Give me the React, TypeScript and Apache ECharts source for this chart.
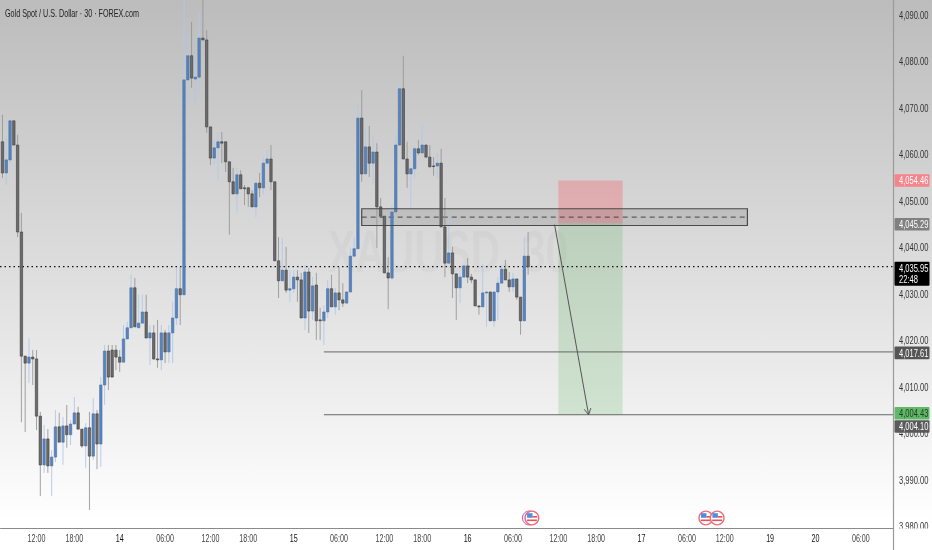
import React, { useEffect, useRef } from "react";
import * as echarts from "echarts";

const opens = [4062.8,4056.1,4058.9,4067.3,4062.1,4043.4,4016.7,4015.2,4016.5,4016.1,4003.8,3993.3,3998.9,3993.1,3995.0,4001.5,3998.2,4001.7,3999.8,4002.1,
4004.5,4001.0,3997.4,4001.3,3995.2,4004.3,3997.8,4010.5,4017.8,4018.0,4018.0,4016.5,4015.4,4020.4,4022.8,4031.4,4022.8,4023.8,4026.2,4020.6,
4021.7,4016.1,4015.9,4021.7,4017.6,4021.7,4024.9,4031.2,4029.9,4076.1,4081.3,4076.3,4076.7,4085.1,4084.7,4066.0,4059.3,4061.5,4062.8,4062.8,
4058.5,4054.2,4051.6,4055.7,4052.9,4052.9,4051.6,4048.8,4053.9,4052.9,4058.2,4059.1,4054.2,4037.2,4032.9,4035.2,4030.9,4031.2,4033.7,4033.1,
4024.9,4034.8,4026.4,4032.0,4024.5,4024.3,4026.2,4031.2,4027.3,4030.3,4028.8,4028.1,4030.5,4038.2,4039.8,4067.9,4055.9,4061.7,4058.2,4060.6,
4048.8,4046.8,4034.6,4033.5,4047.7,4062.1,4074.2,4059.1,4055.9,4057.0,4061.3,4060.4,4062.1,4059.5,4057.6,4057.6,4058.2,4044.5,4036.7,4038.9,
4034.4,4031.4,4033.7,4036.1,4033.7,4033.1,4027.5,4027.3,4030.3,4030.5,4024.3,4030.5,4032.4,4035.4,4033.1,4031.6,4033.3,4029.4,4024.3,4038.2];

const closes = [4056.1,4058.9,4067.3,4062.1,4043.4,4016.7,4015.2,4016.5,4016.1,4003.8,3993.3,3998.9,3993.1,3995.0,4001.5,3998.2,4001.7,3999.8,4002.1,4004.5,
4001.0,3997.4,4001.3,3995.2,4004.3,3997.8,4010.5,4017.8,4012.2,4012.2,4016.5,4015.4,4020.4,4022.8,4031.4,4023.0,4023.8,4026.2,4020.6,4021.7,
4016.1,4015.9,4021.7,4017.6,4021.7,4024.9,4031.2,4029.9,4076.1,4081.3,4076.5,4076.7,4085.1,4084.7,4066.0,4059.3,4061.5,4062.8,4062.5,4058.5,
4054.2,4051.6,4055.7,4052.7,4052.7,4051.6,4048.8,4053.9,4052.9,4058.2,4059.1,4054.2,4037.2,4032.9,4035.2,4030.9,4031.2,4033.7,4033.1,4024.9,
4034.8,4026.4,4031.8,4024.3,4024.3,4026.2,4031.2,4027.3,4030.3,4028.8,4028.1,4030.5,4038.2,4039.8,4067.9,4055.9,4061.7,4058.2,4060.6,4048.8,
4046.8,4034.6,4033.5,4047.7,4062.1,4074.2,4059.1,4055.9,4057.0,4061.3,4060.4,4062.1,4059.5,4057.4,4057.5,4058.2,4044.5,4036.7,4038.9,4034.4,
4031.4,4033.7,4036.1,4033.7,4033.1,4027.5,4027.3,4030.3,4030.5,4024.3,4030.5,4032.4,4035.4,4033.1,4031.6,4033.3,4029.4,4024.3,4038.2,4035.9];

const lows = [4055.0,4053.5,4058.2,4062.1,4042.3,4002.5,4000.4,4010.9,4010.5,4000.8,3986.6,3991.6,3991.6,3986.6,3993.9,3998.2,3993.3,3997.0,3997.6,4002.1,
4001.0,3997.0,3992.7,3983.6,3994.4,3992.4,3992.9,4006.2,4009.4,4012.2,4013.7,4013.3,4015.4,4020.4,4022.8,4023.0,4022.8,4023.8,4020.6,4014.8,
4015.9,4014.2,4013.7,4015.2,4015.2,4015.2,4023.4,4023.4,4029.9,4070.7,4074.4,4070.7,4073.3,4084.7,4064.7,4057.8,4057.8,4054.6,4058.2,4056.3,
4042.8,4051.6,4047.7,4052.7,4049.2,4048.8,4048.8,4046.6,4050.9,4051.4,4058.2,4052.4,4037.2,4029.2,4032.9,4030.3,4028.4,4030.3,4028.4,4024.9,
4022.3,4021.7,4024.5,4020.2,4020.2,4019.1,4024.9,4027.3,4025.6,4026.6,4027.3,4028.1,4030.5,4038.2,4039.8,4054.2,4055.9,4055.2,4053.5,4040.0,
4046.8,4034.6,4026.8,4033.1,4047.7,4062.1,4059.1,4052.9,4048.6,4055.0,4060.0,4060.4,4059.5,4057.4,4055.5,4055.0,4044.5,4033.7,4036.7,4029.2,
4024.5,4028.1,4033.7,4032.4,4032.4,4027.5,4025.6,4027.3,4023.0,4024.3,4023.0,4024.5,4032.4,4033.1,4030.5,4030.5,4028.8,4021.3,4024.3,4034.2];

const highs = [4068.6,4063.6,4067.3,4067.3,4064.3,4047.5,4016.7,4020.6,4018.0,4018.0,4004.7,4001.9,4001.0,3996.5,4005.1,4004.5,4003.6,4006.2,4003.0,4007.9,
4005.8,4001.0,4002.3,4004.7,4007.7,4005.1,4012.2,4019.1,4019.1,4019.1,4019.1,4018.0,4023.4,4024.1,4034.2,4033.5,4029.9,4029.9,4029.9,4023.4,
4023.4,4024.5,4023.4,4022.3,4023.4,4028.4,4035.7,4035.9,4094.0,4086.2,4088.6,4081.9,4090.5,4094.0,4086.8,4066.0,4063.2,4064.7,4064.9,4062.8,
4058.5,4057.2,4057.2,4056.7,4053.5,4053.1,4052.4,4054.2,4056.1,4059.5,4061.0,4062.1,4054.2,4042.3,4042.1,4040.2,4035.2,4035.2,4035.2,4034.6,
4036.3,4035.7,4033.7,4034.6,4027.1,4027.7,4033.1,4034.2,4031.4,4035.9,4032.4,4030.5,4040.0,4042.3,4071.4,4073.9,4066.0,4066.2,4064.0,4062.5,
4050.7,4046.8,4038.0,4049.2,4064.3,4075.7,4081.3,4062.8,4057.0,4061.7,4063.2,4066.6,4062.1,4062.1,4059.5,4060.4,4061.3,4050.7,4046.6,4040.2,
4034.4,4034.6,4036.3,4037.8,4034.4,4033.1,4027.5,4036.5,4030.5,4030.5,4030.5,4033.7,4036.3,4037.4,4034.8,4034.6,4033.3,4029.4,4042.3,4043.4];

const barSlots = 236;
const xTickIndex = [9,19,31,43,55,65,77,89,101,111,123,135,147,157,169,181,191,203,215,227];
const xTickText = ["12:00","18:00","14","06:00","12:00","18:00","15","06:00","12:00","18:00","16","06:00","12:00","18:00","17","06:00","12:00","19","20","06:00"];
const yTickValues = [3980,3990,4000,4010,4020,4030,4040,4050,4060,4070,4080,4090];
const yTickText = ["3,980.00","3,990.00","4,000.00","4,010.00","4,020.00","4,030.00","4,040.00","4,050.00","4,060.00","4,070.00","4,080.00","4,090.00"];

const title = "Gold Spot / U.S. Dollar · 30 · FOREX.com";
const watermark = "XAUUSD, 30";

const supplyZone = [95, 197, 4044.8, 4048.4, 4046.6]; // from, to, low, high, mid
const riskZone = [147, 164, 4045.29, 4054.46];
const rewardZone = [147, 164, 4004.1, 4045.29];
const levelFrom = [85, 85];
const levelPrice = [4017.61, 4004.1];
const lastPrice = 4035.95;
const arrowFrom = [146, 4045.0];
const arrowTo = [155, 4004.1];
const eventIndex = [139.7, 185.6, 188.8];

const tagPrice = [4054.46, 4045.29, 4035.95, 4017.61, 4004.43, 4004.1];
const tagText = ["4,054.46", "4,045.29", "4,035.95", "4,017.61", "4,004.43", "4,004.10"];
const tagFill = ["#f7838b", "#808080", "#000000", "#555555", "#62b868", "#5a5a5a"];
const tagColor = ["#ffffff", "#ffffff", "#ffffff", "#ffffff", "#1d3d20", "#ffffff"];
const tagShift = [0, 1, 1, 1, 0, 11.7];
const countdown = "22:48";

const FONT = "'Liberation Sans', sans-serif";
const SQUEEZE = 0.72;

function squeezed(text: string, x: number, y: number, fill: string, align: string = "left", size: number = 10.5, sx: number = SQUEEZE) {
  return { type: "text", x, y, scaleX: sx, style: { text, x: 0, y: 0, fill, font: `${size}px ${FONT}`, textAlign: align, textVerticalAlign: "middle" } };
}

function renderCandle(_: any, api: any) {
  const i = api.value(0), o = api.value(1), c = api.value(2), l = api.value(3), h = api.value(4);
  const up = c >= o;
  const pTop = api.coord([i, Math.max(o, c)]);
  const pBot = api.coord([i, Math.min(o, c)]);
  const pH = api.coord([i, h]);
  const pL = api.coord([i, l]);
  const w = 2.4;
  const x = pTop[0];
  return {
    type: "group",
    children: [
      { type: "line", shape: { x1: x, y1: pH[1], x2: x, y2: pL[1] }, style: { stroke: up ? "#b0c8ea" : "#979797", lineWidth: 0.9 } },
      { type: "rect", shape: { x: x - w / 2, y: pTop[1], width: w, height: Math.max(pBot[1] - pTop[1], 0.6) },
        style: { fill: up ? "#5585c4" : "#6c6c6c", stroke: up ? "#4a6c9e" : "#3c3c3c", lineWidth: 0.6 } },
    ],
  };
}

function zoneRect(api: any, from: number, to: number, low: number, high: number, style: any) {
  const a = api.coord([from, high]);
  const b = api.coord([to, low]);
  return { type: "rect", shape: { x: a[0], y: a[1], width: b[0] - a[0], height: b[1] - a[1] }, style };
}

function renderZones(_: any, api: any) {
  const right = 893;
  const children: any[] = [];
  children.push(zoneRect(api, riskZone[0], riskZone[1], riskZone[2], riskZone[3], { fill: "rgba(247,90,100,0.33)" }));
  children.push(zoneRect(api, rewardZone[0], rewardZone[1], rewardZone[2], rewardZone[3], { fill: "rgba(76,175,80,0.2)" }));
  children.push(zoneRect(api, supplyZone[0], supplyZone[1], supplyZone[2], supplyZone[3], { fill: "rgba(60,60,60,0.14)" }));
  const m1 = api.coord([supplyZone[0], supplyZone[4]]);
  const m2 = api.coord([supplyZone[1], supplyZone[4]]);
  children.push({ type: "line", shape: { x1: m1[0], y1: m1[1], x2: m2[0], y2: m2[1] }, style: { stroke: "#444", lineWidth: 1, lineDash: [5, 4] } });
  levelPrice.forEach((p, k) => {
    const s = api.coord([levelFrom[k], p]);
    children.push({ type: "line", shape: { x1: s[0], y1: s[1], x2: right, y2: s[1] }, style: { stroke: "#666", lineWidth: 1 } });
  });
  const ly = api.coord([0, lastPrice])[1];
  children.push({ type: "line", shape: { x1: 0, y1: ly, x2: right, y2: ly }, style: { stroke: "#111", lineWidth: 1.2, lineDash: [1.5, 3] } });
  const af = api.coord(arrowFrom);
  const at = api.coord(arrowTo);
  children.push({ type: "line", shape: { x1: af[0], y1: af[1], x2: at[0], y2: at[1] }, style: { stroke: "#555", lineWidth: 1 } });
  const ang = Math.atan2(at[1] - af[1], at[0] - af[0]);
  const head = (d: number) => [at[0] - 7 * Math.cos(ang + d), at[1] - 7 * Math.sin(ang + d)];
  children.push({ type: "polyline", shape: { points: [head(0.5), at, head(-0.5)] }, style: { stroke: "#555", lineWidth: 1, fill: "none" } });
  return { type: "group", children };
}

function renderTag(_: any, api: any) {
  const k = api.value(0);
  const y = api.coord([0, api.value(1)])[1] + tagShift[k];
  const x = 894.5, w = 35;
  const isLast = tagPrice[k] === lastPrice;
  const top = isLast ? y - 6 : y - 6.3;
  const h = isLast ? 24 : 12.6;
  const children: any[] = [
    { type: "rect", shape: { x, y: top, width: w, height: h, r: 1 }, style: { fill: tagFill[k] } },
    squeezed(tagText[k], x + 4.5, top + 6.5, tagColor[k]),
  ];
  if (isLast) children.push(squeezed(countdown, x + 4.5, top + 17.5, "#fff"));
  return { type: "group", children };
}

function renderYTick(_: any, api: any) {
  const k = api.value(0);
  const y = api.coord([0, api.value(1)])[1];
  return squeezed(yTickText[k], 899, y, "#333");
}

function renderXTick(_: any, api: any) {
  const k = api.value(0);
  const x = api.coord([api.value(1), 3980])[0];
  const t = xTickText[k];
  return squeezed(t, x, 538.5, t.length <= 2 ? "#111" : "#444", "center", 10.5, 0.68);
}

function renderEvent(_: any, api: any) {
  const k = api.value(0);
  const x = api.coord([api.value(1), 4000])[0];
  const y = 518;
  const children: any[] = [];
  if (k === 0) {
    children.push({ type: "circle", shape: { cx: x - 2.5, cy: y, r: 7 }, style: { fill: "#f4f0fa", stroke: "#a860c8", lineWidth: 1 } });
  }
  children.push({ type: "circle", shape: { cx: x, cy: y, r: 6.8 }, style: { fill: "#ffffff", stroke: "#ee6a76", lineWidth: 1.4 } });
  children.push({ type: "rect", shape: { x: x - 4.8, y: y - 4.8, width: 5.5, height: 4.6 }, style: { fill: "#4a90e2" } });
  children.push({ type: "rect", shape: { x: x + 0.7, y: y - 2, width: 4.5, height: 1.6 }, style: { fill: "#e9505c" } });
  children.push({ type: "rect", shape: { x: x - 5, y: y + 1.5, width: 10, height: 1.6 }, style: { fill: "#e9505c" } });
  return { type: "group", children };
}

export default function App() {
  const ref = useRef<HTMLDivElement>(null);
  useEffect(() => {
    const chart = echarts.init(ref.current!, undefined, { renderer: "svg" });
    const categories = Array.from({ length: barSlots }, (_, i) => String(i));
    const rows = opens.map((o, i) => [i, o, closes[i], lows[i], highs[i]]);
    chart.setOption({
      animation: false,
      grid: { left: 0.6, top: 15.3, width: 892.4, height: 511.5, outerBoundsMode: "none", containLabel: false },
      xAxis: {
        type: "category",
        data: categories,
        offset: 1.2,
        axisLine: { show: true, onZero: false, lineStyle: { color: "#8a8a8a", width: 1.2 } },
        axisTick: { show: false },
        splitLine: { show: false },
        axisLabel: { show: false },
      },
      yAxis: {
        type: "value",
        position: "right",
        min: 3980,
        max: 4090,
        interval: 10,
        axisLine: { show: false },
        axisTick: { show: false },
        splitLine: { show: false },
        axisLabel: { show: false },
      },
      graphic: [
        {
          type: "rect", z: -10, silent: true,
          shape: { x: 0, y: 0, width: 932, height: 550 },
          style: {
            fill: new echarts.graphic.LinearGradient(0, 0, 0, 1, [
              { offset: 0, color: "#bcbcbc" },
              { offset: 0.5, color: "#dedede" },
              { offset: 0.95, color: "#ffffff" },
              { offset: 1, color: "#ffffff" },
            ]),
          },
        },
        {
          type: "text", z: -5, silent: true, x: 328, y: 252, scaleX: 0.68,
          style: { text: watermark, font: `bold 60px ${FONT}`, fill: "rgba(0,0,0,0.022)", textAlign: "left", textVerticalAlign: "middle" },
        },
        {
          type: "text", z: 20, silent: true, x: 5, y: 13, scaleX: 0.655,
          style: { text: title, font: `11px ${FONT}`, fill: "#222", textAlign: "left", textVerticalAlign: "middle" },
        },
        { type: "rect", z: 20, silent: true, shape: { x: 894, y: 528.5, width: 38, height: 21.5 }, style: { fill: "#ffffff" } },
        { type: "line", z: 21, silent: true, shape: { x1: 893.5, y1: 0, x2: 893.5, y2: 550 }, style: { stroke: "#9a9a9a", lineWidth: 1.2 } },
      ],
      series: [
        { type: "custom", name: "Zones", z: 1, silent: true, renderItem: renderZones, data: [[0, 4040]], encode: { x: 0, y: 1 } },
        { type: "custom", name: "XAUUSD", z: 3, silent: true, renderItem: renderCandle, data: rows, encode: { x: 0, y: [1, 2, 3, 4] } },
        { type: "custom", name: "Zones top", z: 4, silent: true,
          renderItem: (_: any, api: any) => zoneRect(api, supplyZone[0], supplyZone[1], supplyZone[2], supplyZone[3], { fill: "rgba(60,60,60,0.0)", stroke: "#4a4a4a", lineWidth: 1.2 }),
          data: [[0, 4040]], encode: { x: 0, y: 1 } },
        { type: "custom", name: "Events", z: 5, silent: true, renderItem: renderEvent, data: eventIndex.map((v, k) => [k, v]), encode: { x: 1 }, clip: false },
        { type: "custom", name: "Y ticks", z: 6, silent: true, renderItem: renderYTick, data: yTickValues.map((v, k) => [k, v]), encode: { y: 1 } },
        { type: "custom", name: "X ticks", z: 6, silent: true, renderItem: renderXTick, data: xTickIndex.map((v, k) => [k, v]), encode: { x: 1 } },
        { type: "custom", name: "Tags", z: 30, silent: true, renderItem: renderTag, data: tagPrice.map((p, k) => [k, p]), encode: { y: 1 } },
      ],
    });
    return () => chart.dispose();
  }, []);
  return <div ref={ref} style={{ position: "fixed", left: 0, top: 0, width: 932, height: 550 }} />;
}
